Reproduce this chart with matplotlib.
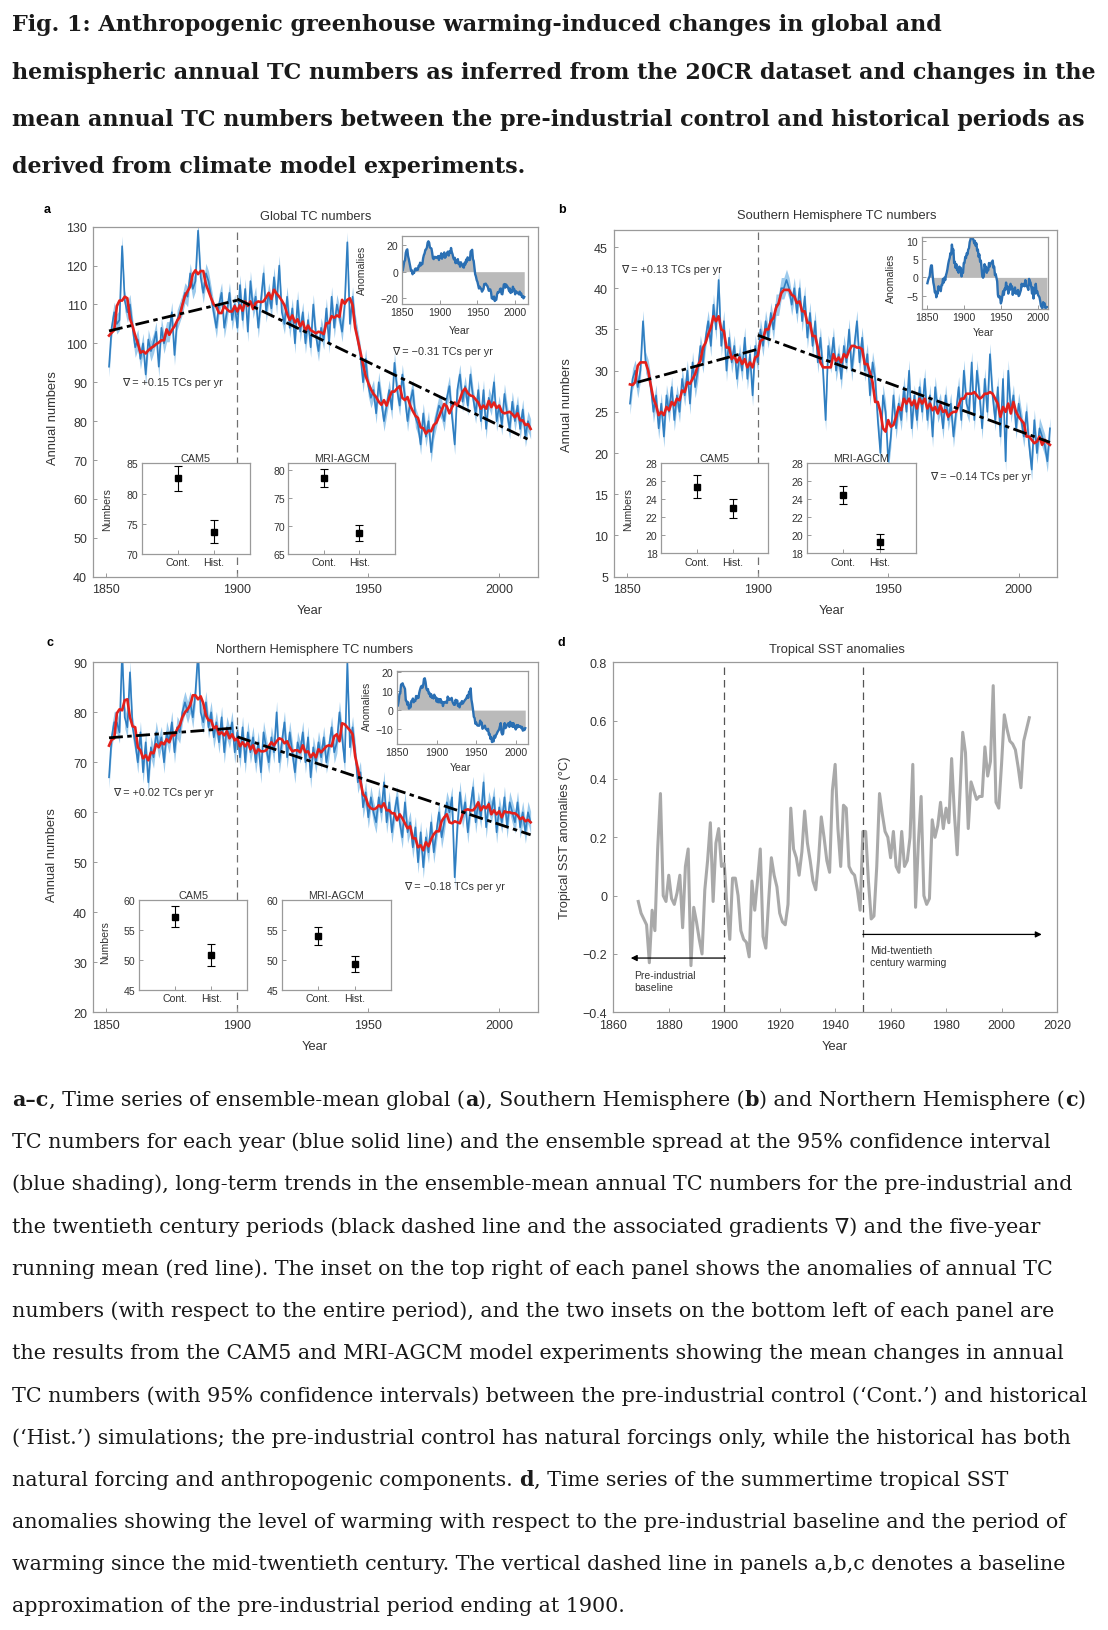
import numpy as np
import pandas as pd
import matplotlib
matplotlib.use("Agg")
import matplotlib.pyplot as plt

plt.rcParams['font.family'] = ['Liberation Sans', 'DejaVu Sans']

# ---------------- data ----------------
start_year = 1851
global_tc = [94, 104, 108, 105, 106, 125, 111, 108, 110, 104,
             99, 101, 96, 100, 92, 101, 98, 100, 103, 94,
             104, 100, 103, 103, 108, 97, 106, 108, 110, 113,
             112, 118, 114, 116, 129, 117, 113, 118, 116, 112,
             108, 104, 110, 113, 104, 108, 113, 106, 110, 104,
             115, 106, 114, 103, 116, 109, 112, 104, 111, 118,
             108, 113, 109, 117, 110, 120, 108, 105, 112, 104,
             109, 100, 111, 103, 108, 100, 106, 99, 110, 102,
             98, 104, 101, 109, 100, 112, 104, 110, 107, 103,
             110, 126, 105, 112, 105, 101, 97, 90, 96, 89,
             86, 88, 82, 90, 85, 80, 84, 88, 83, 95,
             88, 84, 92, 86, 80, 85, 88, 81, 79, 74,
             82, 76, 80, 72, 78, 81, 84, 83, 80, 86,
             89, 81, 74, 88, 92, 85, 89, 84, 92, 86,
             82, 88, 80, 88, 78, 86, 84, 90, 80, 84,
             79, 87, 82, 78, 85, 80, 84, 78, 83, 76,
             80, 78]
sh_tc = [26, 29, 30, 28, 30, 36, 31, 30, 28, 25,
         27, 23, 26, 22, 27, 25, 28, 24, 27, 25,
         29, 27, 30, 26, 31, 28, 30, 33, 31, 34,
         36, 33, 38, 35, 41, 33, 36, 30, 34, 31,
         33, 29, 32, 30, 34, 29, 32, 27, 33, 31,
         35, 33, 36, 34, 37, 35, 38, 38, 40, 40,
         41, 40, 38, 40, 37, 40, 36, 39, 34, 37,
         33, 36, 31, 34, 30, 24, 33, 31, 34, 30,
         32, 29, 33, 31, 35, 30, 33, 36, 31, 34,
         30, 32, 27, 31, 29, 24, 20, 27, 25, 19,
         22, 27, 23, 26, 24, 28, 25, 30, 23, 27,
         24, 28, 25, 29, 24, 27, 22, 28, 25, 26,
         23, 27, 24, 26, 22, 25, 28, 24, 30, 26,
         25, 31, 24, 30, 27, 23, 29, 25, 32, 27,
         24, 28, 22, 29, 19, 30, 25, 27, 23, 26,
         24, 22, 25, 21, 18, 24, 20, 23, 22, 21,
         19, 23]
nh_tc = [67, 75, 78, 78, 76, 92, 79, 77, 88, 77,
         74, 70, 76, 68, 74, 66, 73, 71, 76, 73,
         75, 70, 76, 74, 78, 72, 77, 76, 80, 82,
         80, 82, 79, 84, 92, 80, 78, 82, 77, 80,
         75, 78, 74, 79, 72, 77, 75, 78, 72, 76,
         71, 77, 70, 76, 72, 75, 70, 74, 68, 76,
         73, 70, 75, 72, 80, 70, 74, 78, 71, 76,
         72, 68, 74, 72, 76, 70, 75, 67, 73, 70,
         74, 71, 75, 70, 73, 77, 72, 74, 80, 75,
         70, 90, 73, 77, 72, 66, 68, 61, 64, 59,
         63, 60, 58, 63, 60, 66, 58, 62, 56, 60,
         63, 58, 55, 62, 56, 58, 53, 57, 50, 56,
         49, 55, 52, 58, 52, 56, 60, 55, 58, 62,
         60, 63, 47, 57, 64, 59, 62, 56, 61, 65,
         58, 62, 59, 66, 57, 62, 60, 63, 56, 61,
         58, 63, 57, 62, 60, 58, 62, 57, 60, 56,
         60, 58]
global_spread = 2.6
sh_spread = 1.3
nh_spread = 2.2

# trend lines (end points) and gradients
global_trend_pre_x, global_trend_pre_y = [1851, 1900], [103.2, 111.1]
global_trend_post_x, global_trend_post_y = [1900, 2012], [111.4, 75.0]
sh_trend_pre_x, sh_trend_pre_y = [1854, 1900], [28.6, 32.6]
sh_trend_post_x, sh_trend_post_y = [1900, 2012], [34.3, 21.3]
nh_trend_pre_x, nh_trend_pre_y = [1851, 1900], [74.9, 76.9]
nh_trend_post_x, nh_trend_post_y = [1900, 2012], [75.1, 55.5]
global_grad = ["+0.15", "\u22120.31"]
sh_grad = ["+0.13", "\u22120.14"]
nh_grad = ["+0.02", "\u22120.18"]

# model experiments (mean and 95% CI half-width)
exp_labels = ["Cont.", "Hist."]
cam5_global, cam5_global_ci = [82.5, 73.7], [2.1, 1.9]
mri_global, mri_global_ci = [78.5, 68.8], [1.6, 1.4]
cam5_sh, cam5_sh_ci = [25.4, 23.0], [1.25, 1.05]
mri_sh, mri_sh_ci = [24.5, 19.3], [1.0, 0.85]
cam5_nh, cam5_nh_ci = [57.2, 50.8], [1.8, 1.85]
mri_nh, mri_nh_ci = [54.0, 49.3], [1.5, 1.35]

# tropical SST anomalies
sst_start = 1869
tropical_sst = [-0.02, -0.06, -0.08, -0.10, -0.23, -0.05, -0.12, 0.16, 0.35, 0.00,
                -0.02, 0.07, -0.01, -0.03, 0.01, 0.07, -0.11, 0.10, 0.16, -0.24,
                -0.04, -0.09, -0.15, -0.20, 0.02, 0.12, 0.25, -0.02, 0.18, 0.23,
                0.10, 0.11, -0.04, -0.15, 0.06, 0.06, 0.00, -0.12, -0.15, -0.16,
                -0.21, 0.05, -0.05, 0.05, 0.16, -0.14, -0.18, -0.02, 0.13, 0.07,
                0.03, -0.06, -0.09, -0.10, -0.03, 0.30, 0.16, 0.13, 0.07, 0.15,
                0.29, 0.18, 0.12, 0.05, 0.02, 0.12, 0.27, 0.20, 0.12, 0.08,
                0.36, 0.45, 0.23, 0.10, 0.31, 0.30, 0.10, 0.08, 0.07, 0.02,
                -0.05, 0.22, 0.22, 0.05, -0.08, -0.07, 0.10, 0.35, 0.28, 0.22,
                0.20, 0.13, 0.22, 0.10, 0.08, 0.22, 0.10, 0.12, 0.20, 0.45,
                -0.04, 0.18, 0.34, 0.00, -0.03, -0.01, 0.26, 0.20, 0.24, 0.32,
                0.23, 0.30, 0.25, 0.47, 0.28, 0.14, 0.35, 0.56, 0.49, 0.23,
                0.39, 0.36, 0.33, 0.34, 0.34, 0.51, 0.41, 0.46, 0.72, 0.32,
                0.30, 0.45, 0.62, 0.57, 0.53, 0.52, 0.50, 0.44, 0.37, 0.53,
                0.57, 0.61]

# ---------------- figure ----------------
W, H = 1108, 1631
fig = plt.figure(figsize=(W / 100, H / 100), dpi=100)
fig.patch.set_facecolor('white')
renderer = fig.canvas.get_renderer()

SPINE = '#9a9a9a'
TXT = '#333333'
BLUE = '#2f7ec1'
SHADE = '#9ccaec'
RED = '#e3201b'


def px_axes(l, t, r, b):
    return fig.add_axes([l / W, 1 - b / H, (r - l) / W, (b - t) / H])


def ftext(x, y, s, **kw):
    kw.setdefault('color', TXT)
    return fig.text(x / W, 1 - y / H, s, **kw)


def style(ax, size=9, pad=4):
    for sp in ax.spines.values():
        sp.set_color(SPINE)
        sp.set_linewidth(0.9)
    ax.tick_params(direction='in', length=3, width=0.7, color=SPINE,
                   labelsize=size, labelcolor=TXT, pad=pad)


def tc_panel(rect, series, spread, ylim, yticks, tpre, tpost):
    ax = px_axes(*rect)
    yrs = start_year + np.arange(len(series))
    s = pd.Series(series, index=yrs, dtype=float)
    ax.fill_between(yrs, s - spread, s + spread, color=SHADE, lw=0, zorder=1)
    ax.plot(yrs, s, color=BLUE, lw=1.2, zorder=2)
    ax.plot(yrs, s.rolling(5, center=True, min_periods=1).mean(),
            color=RED, lw=1.9, zorder=3)
    for tx, ty in (tpre, tpost):
        ax.plot(tx, ty, color='black', lw=2.0, ls=(0, (5, 1.6, 1.6, 1.6)), zorder=4)
    ax.axvline(1900, color='#707070', lw=0.9, ls=(0, (6, 4)), zorder=1.5)
    ax.set_xlim(1845.0, 2014.7)
    ax.set_ylim(*ylim)
    ax.set_xticks([1850, 1900, 1950, 2000])
    ax.set_yticks(yticks)
    style(ax, 9, 4.5)
    return ax


def anom_inset(rect, series, xlim, ylim, yticks, ylab_pos, year_pos):
    ax = px_axes(*rect)
    yrs = start_year + np.arange(len(series))
    s = pd.Series(series, index=yrs, dtype=float)
    anom = (s - s.mean()).rolling(3, center=True, min_periods=1).mean()
    ax.fill_between(yrs, 0, anom, color='#bababa', lw=0)
    ax.plot(yrs, anom, color='#2a6fb3', lw=1.7)
    ax.set_xlim(*xlim)
    ax.set_ylim(*ylim)
    ax.set_xticks([1850, 1900, 1950, 2000])
    ax.set_yticks(yticks)
    ax.set_yticklabels([str(v).replace('-', '\u2212') for v in yticks])
    style(ax, 7.6, 2.5)
    ftext(*ylab_pos, 'Anomalies', fontsize=7.6, rotation=90, ha='center', va='center')
    ftext(*year_pos, 'Year', fontsize=7.6, ha='center', va='center')
    return ax


def model_inset(rect, vals, ci, title, ylim, yticks, ylab_pos=None):
    ax = px_axes(*rect)
    ax.errorbar([1, 2], vals, yerr=ci, fmt='s', color='black', ms=4.2,
                capsize=3, elinewidth=0.8, capthick=0.8)
    ax.set_xlim(0, 3)
    ax.set_xticks([1, 2])
    ax.set_xticklabels(exp_labels)
    ax.set_ylim(*ylim)
    ax.set_yticks(yticks)
    style(ax, 7.6, 2.5)
    ax.set_title(title, fontsize=7.8, color=TXT, pad=1.5)
    if ylab_pos is not None:
        ftext(*ylab_pos, 'Numbers', fontsize=7.6, rotation=90, ha='center', va='center')
    return ax


# ---- panel a ----
tc_panel((93.3, 227.7, 537.7, 577.7), global_tc, global_spread, (40, 130),
         range(40, 131, 10), (global_trend_pre_x, global_trend_pre_y),
         (global_trend_post_x, global_trend_post_y))
ftext(47, 210, 'a', fontsize=9, weight='bold', color='black', ha='center', va='center')
ftext(315.5, 216.5, 'Global TC numbers', fontsize=9.3, ha='center', va='center')
ftext(53, 418, 'Annual numbers', fontsize=9.3, rotation=90, ha='center', va='center')
ftext(310, 611, 'Year', fontsize=9.3, ha='center', va='center')
ftext(121.7, 383, '\u2207 = ' + global_grad[0] + ' TCs per yr', fontsize=7.8, va='center')
ftext(391.7, 351.7, '\u2207 = ' + global_grad[1] + ' TCs per yr', fontsize=7.8, va='center')
anom_inset((402, 237, 528, 305), global_tc, (1850, 2017), (-24.2, 26.7), [-20, 0, 20],
           (362, 270), (459, 331))
model_inset((141.7, 464.3, 250, 555), cam5_global, cam5_global_ci, 'CAM5',
            (70, 85), [70, 75, 80, 85], (106.7, 510))
model_inset((288.3, 464.3, 395, 555), mri_global, mri_global_ci, 'MRI-AGCM',
            (65, 81.2), [65, 70, 75, 80])

# ---- panel b ----
tc_panel((614.3, 230.7, 1057, 577.7), sh_tc, sh_spread, (5, 47.1),
         range(5, 46, 5), (sh_trend_pre_x, sh_trend_pre_y),
         (sh_trend_post_x, sh_trend_post_y))
ftext(561.7, 210, 'b', fontsize=9, weight='bold', color='black', ha='center', va='center')
ftext(836.7, 216.5, 'Southern Hemisphere TC numbers', fontsize=9.3, ha='center', va='center')
ftext(566.7, 405, 'Annual numbers', fontsize=9.3, rotation=90, ha='center', va='center')
ftext(831.7, 611, 'Year', fontsize=9.3, ha='center', va='center')
ftext(621, 270, '\u2207 = ' + sh_grad[0] + ' TCs per yr', fontsize=7.8, va='center')
ftext(930, 476.7, '\u2207 = ' + sh_grad[1] + ' TCs per yr', fontsize=7.8, va='center')
anom_inset((921.7, 238.3, 1048, 310), sh_tc, (1843.3, 2013.5), (-8.6, 10.9),
           [-5, 0, 5, 10], (891, 278), (983, 333))
model_inset((661, 464.3, 768.3, 554.3), cam5_sh, cam5_sh_ci, 'CAM5',
            (18, 28), range(18, 29, 2), (628.3, 510))
model_inset((806.7, 464.3, 916, 554.3), mri_sh, mri_sh_ci, 'MRI-AGCM',
            (18, 28), range(18, 29, 2))

# ---- panel c ----
tc_panel((93.3, 663.3, 537.7, 1013.3), nh_tc, nh_spread, (20, 90),
         range(20, 91, 10), (nh_trend_pre_x, nh_trend_pre_y),
         (nh_trend_post_x, nh_trend_post_y))
ftext(50, 643.3, 'c', fontsize=9, weight='bold', color='black', ha='center', va='center')
ftext(315, 650, 'Northern Hemisphere TC numbers', fontsize=9.3, ha='center', va='center')
ftext(52, 855, 'Annual numbers', fontsize=9.3, rotation=90, ha='center', va='center')
ftext(315, 1047, 'Year', fontsize=9.3, ha='center', va='center')
ftext(113, 792.7, '\u2207 = ' + nh_grad[0] + ' TCs per yr', fontsize=7.8, va='center')
ftext(404, 886.7, '\u2207 = ' + nh_grad[1] + ' TCs per yr', fontsize=7.8, va='center')
anom_inset((396.7, 671.7, 528, 745), nh_tc, (1849.5, 2015.5), (-17.9, 20.8),
           [-10, 0, 10, 20], (366.7, 706.7), (460.7, 768))
model_inset((139, 900.7, 247.3, 991), cam5_nh, cam5_nh_ci, 'CAM5',
            (45, 60), [45, 50, 55, 60], (105, 943))
model_inset((281.7, 900.7, 391, 991), mri_nh, mri_nh_ci, 'MRI-AGCM',
            (45, 60), [45, 50, 55, 60])

# ---- panel d ----
axd = px_axes(613.3, 663.3, 1057, 1013.3)
sst_years = sst_start + np.arange(len(tropical_sst))
axd.plot(sst_years, tropical_sst, color='#a9a9a9', lw=2.2)
for xv in (1900, 1950):
    axd.axvline(xv, color='#555555', lw=0.9, ls=(0, (6, 4)))
axd.set_xlim(1860, 2020)
axd.set_ylim(-0.4, 0.8)
axd.set_xticks(range(1860, 2021, 20))
dy = [-0.4, -0.2, 0, 0.2, 0.4, 0.6, 0.8]
axd.set_yticks(dy)
axd.set_yticklabels(['\u22120.4', '\u22120.2', '0', '0.2', '0.4', '0.6', '0.8'])
style(axd, 9, 4.5)
axd.annotate('', xy=(1866.3, -0.214), xytext=(1900.4, -0.214),
             arrowprops=dict(arrowstyle='-|>', color='black', lw=0.9,
                             mutation_scale=9, shrinkA=0, shrinkB=0))
axd.annotate('', xy=(2014.5, -0.133), xytext=(1950, -0.133),
             arrowprops=dict(arrowstyle='-|>', color='black', lw=0.9,
                             mutation_scale=9, shrinkA=0, shrinkB=0))
axd.text(1867.5, -0.293, 'Pre-industrial\nbaseline', fontsize=7.5, color=TXT,
         ha='left', va='center', linespacing=1.25)
axd.text(1952.5, -0.208, 'Mid-twentieth\ncentury warming', fontsize=7.5, color=TXT,
         ha='left', va='center', linespacing=1.25)
ftext(561.7, 643.3, 'd', fontsize=9, weight='bold', color='black', ha='center', va='center')
ftext(836.7, 650, 'Tropical SST anomalies', fontsize=9.3, ha='center', va='center')
ftext(565, 838, 'Tropical SST anomalies (\u00b0C)', fontsize=9.3, rotation=90,
      ha='center', va='center')
ftext(835, 1047, 'Year', fontsize=9.3, ha='center', va='center')

# ---------------- title and caption ----------------
SERIF = ['DejaVu Serif', 'DejaVu Sans']


def seg_width(s, size, bold):
    t = fig.text(0, 0, s + '|', fontsize=size, family=SERIF,
                 weight='bold' if bold else 'normal')
    w1 = t.get_window_extent(renderer).width
    t.set_text('|')
    w2 = t.get_window_extent(renderer).width
    t.remove()
    return w1 - w2


title_lines = [
    "Fig. 1: Anthropogenic greenhouse warming-induced changes in global and",
    "hemispheric annual TC numbers as inferred from the 20CR dataset and changes in the",
    "mean annual TC numbers between the pre-industrial control and historical periods as",
    "derived from climate model experiments.",
]
tsize = 20 * 1087 / seg_width(title_lines[1], 20, True)
for i, line in enumerate(title_lines):
    ftext(12.5, 23 + 47.3 * i, line, fontsize=tsize, family=SERIF, weight='bold',
          color='#1a1a1a', va='center_baseline')

caption = [
    [("a\u2013c", True), (", Time series of ensemble-mean global (", False), ("a", True),
     ("), Southern Hemisphere (", False), ("b", True), (") and Northern Hemisphere (", False),
     ("c", True), (")", False)],
    [("TC numbers for each year (blue solid line) and the ensemble spread at the 95% confidence interval", False)],
    [("(blue shading), long-term trends in the ensemble-mean annual TC numbers for the pre-industrial and", False)],
    [("the twentieth century periods (black dashed line and the associated gradients \u2207) and the five-year", False)],
    [("running mean (red line). The inset on the top right of each panel shows the anomalies of annual TC", False)],
    [("numbers (with respect to the entire period), and the two insets on the bottom left of each panel are", False)],
    [("the results from the CAM5 and MRI-AGCM model experiments showing the mean changes in annual", False)],
    [("TC numbers (with 95% confidence intervals) between the pre-industrial control (\u2018Cont.\u2019) and historical", False)],
    [("(\u2018Hist.\u2019) simulations; the pre-industrial control has natural forcings only, while the historical has both", False)],
    [("natural forcing and anthropogenic components. ", False), ("d", True),
     (", Time series of the summertime tropical SST", False)],
    [("anomalies showing the level of warming with respect to the pre-industrial baseline and the period of", False)],
    [("warming since the mid-twentieth century. The vertical dashed line in panels a,b,c denotes a baseline", False)],
    [("approximation of the pre-industrial period ending at 1900.", False)],
]
csize = 20 * 1038.5 / seg_width(caption[1][0][0], 20, False)
for i, line in enumerate(caption):
    x = 12.5
    y = 1098 + 42.25 * i
    for seg, bold in line:
        ftext(x, y, seg, fontsize=csize, family=SERIF,
              weight='bold' if bold else 'normal', color='#1a1a1a',
              va='center_baseline')
        x += seg_width(seg, csize, bold)

fig.savefig('out.png', dpi=100, facecolor='white')
